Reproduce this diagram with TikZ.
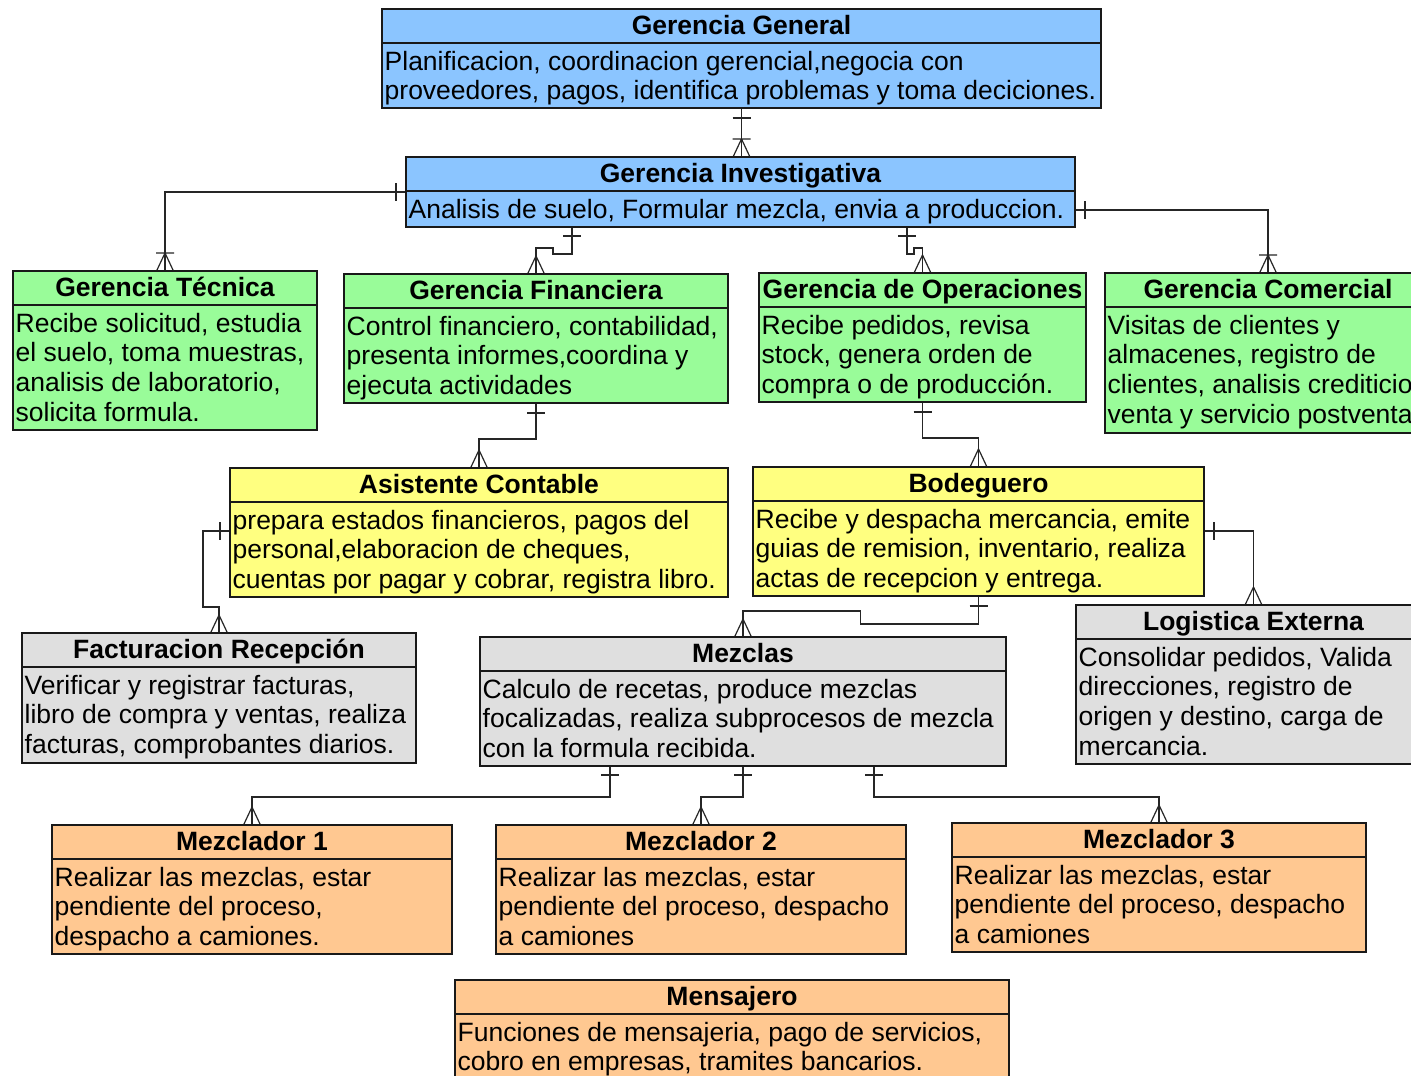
\documentclass[tikz,border=0pt]{standalone}
\usepackage{fontspec}
\setmainfont{Liberation Sans}
\usetikzlibrary{calc}

\definecolor{fblue}{HTML}{8BC5FF}
\definecolor{fgreen}{HTML}{99FC99}
\definecolor{fyellow}{HTML}{FFFF80}
\definecolor{fgray}{HTML}{DFDFDF}
\definecolor{forange}{HTML}{FFC891}

\tikzset{
  ent/.style={draw=black!90, line width=2pt, inner sep=0pt, anchor=north west},
  hdr/.style={line width=1.4pt, draw=black!90},
  ttl/.style={anchor=base, inner sep=0pt, font=\bfseries\fontsize{26.5}{30}\selectfont},
  txt/.style={anchor=base west, inner sep=0pt, font=\fontsize{26.5}{30}\selectfont},
  link/.style={line width=1.2pt, draw=black!85},
  crow/.pic={\draw[link] (0,-17) -- (-8,0) (0,-17) -- (8,0);},
  crowbar/.pic={\draw[link] (0,-17) -- (-8,0) (0,-17) -- (8,0) (-9,-17) -- (9,-17);},
  barv/.pic={\draw[link] (-9,0) -- (9,0);},
  barh/.pic={\draw[link] (0,-9) -- (0,9);},
}

% entity box: name, left, top, right, bottom, fill, title
\newcommand{\entity}[7]{%
  \node[ent, fill=#6, minimum width={(#4-#2)*1pt}, minimum height={(#5-#3)*1pt}] (#1) at (#2,#3) {};
  \draw[hdr] ($(#1.north west)+(0,35)$) -- ($(#1.north east)+(0,35)$);
  \node[ttl] (#1-t) at ($(#1.north)+(0,26.5)$) {#7};
}
% body line k of an entity
\newcommand{\bline}[3]{%
  \node[txt] (#1-l#2) at ($(#1.north west)+(3.5,{62+29.7*(#2-1)})$) {#3};
}

\begin{document}
\begin{tikzpicture}[x=1pt,y=-1pt]
\useasboundingbox (0,0) rectangle (1411,1076);
\fill[white] (0,0) rectangle (1411,1076);
\clip (0,0) rectangle (1411,1076);

% ---------- boxes ----------
\entity{gg}{381}{8}{1100}{107}{fblue}{Gerencia General}
\bline{gg}{1}{Planificacion, coordinacion gerencial,negocia con}
\bline{gg}{2}{proveedores, pagos, identifica problemas y toma deciciones.}

\entity{gi}{405}{156}{1074}{226}{fblue}{Gerencia Investigativa}
\bline{gi}{1}{Analisis de suelo, Formular mezcla, envia a produccion.}

\entity{gt}{12}{270}{316}{429}{fgreen}{Gerencia Técnica}
\bline{gt}{1}{Recibe solicitud, estudia}
\bline{gt}{2}{el suelo, toma muestras,}
\bline{gt}{3}{analisis de laboratorio,}
\bline{gt}{4}{solicita formula.}

\entity{gf}{343}{273}{727}{402}{fgreen}{Gerencia Financiera}
\bline{gf}{1}{Control financiero, contabilidad,}
\bline{gf}{2}{presenta informes,coordina y}
\bline{gf}{3}{ejecuta actividades}

\entity{go}{758}{272}{1085}{401}{fgreen}{Gerencia de Operaciones}
\bline{go}{1}{Recibe pedidos, revisa}
\bline{go}{2}{stock, genera orden de}
\bline{go}{3}{compra o de producción.}

\entity{gc}{1104}{272}{1430}{432}{fgreen}{Gerencia Comercial}
\bline{gc}{1}{Visitas de clientes y}
\bline{gc}{2}{almacenes, registro de}
\bline{gc}{3}{clientes, analisis crediticio}
\bline{gc}{4}{venta y servicio postventa}

\entity{ac}{229}{467}{727}{596}{fyellow}{Asistente Contable}
\bline{ac}{1}{prepara estados financieros, pagos del}
\bline{ac}{2}{personal,elaboracion de cheques,}
\bline{ac}{3}{cuentas por pagar y cobrar, registra libro.}

\entity{bod}{752}{466}{1203}{595}{fyellow}{Bodeguero}
\bline{bod}{1}{Recibe y despacha mercancia, emite}
\bline{bod}{2}{guias de remision, inventario, realiza}
\bline{bod}{3}{actas de recepcion y entrega.}

\entity{fact}{21}{632}{415}{762}{fgray}{Facturacion Recepción}
\bline{fact}{1}{Verificar y registrar facturas,}
\bline{fact}{2}{libro de compra y ventas, realiza}
\bline{fact}{3}{facturas, comprobantes diarios.}

\entity{mez}{479}{636}{1005}{765}{fgray}{Mezclas}
\bline{mez}{1}{Calculo de recetas, produce mezclas}
\bline{mez}{2}{focalizadas, realiza subprocesos de mezcla}
\bline{mez}{3}{con la formula recibida.}

\entity{log}{1075}{604}{1430}{763}{fgray}{Logistica Externa}
\bline{log}{1}{Consolidar pedidos, Valida}
\bline{log}{2}{direcciones, registro de}
\bline{log}{3}{origen y destino, carga de}
\bline{log}{4}{mercancia.}

\entity{ma}{51}{824}{451}{953}{forange}{Mezclador 1}
\bline{ma}{1}{Realizar las mezclas, estar}
\bline{ma}{2}{pendiente del proceso,}
\bline{ma}{3}{despacho a camiones.}

\entity{mb}{495}{824}{905}{953}{forange}{Mezclador 2}
\bline{mb}{1}{Realizar las mezclas, estar}
\bline{mb}{2}{pendiente del proceso, despacho}
\bline{mb}{3}{a camiones}

\entity{mc}{951}{822}{1365}{951}{forange}{Mezclador 3}
\bline{mc}{1}{Realizar las mezclas, estar}
\bline{mc}{2}{pendiente del proceso, despacho}
\bline{mc}{3}{a camiones}

\entity{mens}{454}{979}{1008}{1092}{forange}{Mensajero}
\bline{mens}{1}{Funciones de mensajeria, pago de servicios,}
\bline{mens}{2}{cobro en empresas, tramites bancarios.}

% ---------- connector end points ----------
\coordinate (gi-f) at ($(gi.south west)+(167,0)$);
\coordinate (gi-o) at ($(gi.south west)+(502,0)$);
\coordinate (gi-c) at ($(gi.south east)+(0,-18)$);
\coordinate (ac-w) at ($(ac.north west)+(0,64)$);
\coordinate (bod-e) at ($(bod.north east)+(0,65)$);
\coordinate (mez-a) at ($(mez.south west)+(131,0)$);
\coordinate (mez-c) at ($(mez.south west)+(395,0)$);

% ---------- connectors ----------
\draw[link] (gg.south) -- (gg.south |- gi.north);
\pic at ($(gg.south)+(0,9)$) {barv};
\pic at (gg.south |- gi.north) {crowbar};

\draw[link] (gi.west) -| (gt.north);
\pic at ($(gi.west)+(-9,0)$) {barh};
\pic at (gt.north) {crowbar};

\draw[link] (gi-f) -- ++(0,26) -- ++(-19,0) -- ++(0,-6) -| (gf.north);
\pic at ($(gi-f)+(0,8)$) {barv};
\pic at (gf.north) {crow};

\draw[link] (gi-o) -- ++(0,26) -- ++(7,0) -- ++(0,-6) -| (go.north);
\pic at ($(gi-o)+(0,8)$) {barv};
\pic at (go.north) {crow};

\draw[link] (gi-c) -| (gc.north);
\pic at ($(gi-c)+(9,0)$) {barh};
\pic at (gc.north) {crowbar};

\draw[link] (gf.south) -- ++(0,35) -| (ac.north);
\pic at ($(gf.south)+(0,9)$) {barv};
\pic at (ac.north) {crow};

\draw[link] (go.south) -- ++(0,35) -| (bod.north);
\pic at ($(go.south)+(0,9)$) {barv};
\pic at (bod.north) {crow};

\draw[link] (ac-w) -- ++(-26,0) -- ++(0,76) -| (fact.north);
\pic at ($(ac-w)+(-9,0)$) {barh};
\pic at (fact.north) {crow};

\draw[link] (bod.south) -- ++(0,27) -- ++(-118,0) -- ++(0,-13) -| (mez.north);
\pic at ($(bod.south)+(0,9)$) {barv};
\pic at (mez.north) {crow};

\draw[link] (bod-e) -| (log.north);
\pic at ($(bod-e)+(9,0)$) {barh};
\pic at (log.north) {crow};

\draw[link] (mez-a) -- ++(0,30) -| (ma.north);
\pic at ($(mez-a)+(0,8)$) {barv};
\pic at (ma.north) {crow};

\draw[link] (mez.south) -- ++(0,30) -| (mb.north);
\pic at ($(mez.south)+(0,8)$) {barv};
\pic at (mb.north) {crow};

\draw[link] (mez-c) -- ++(0,30) -| (mc.north);
\pic at ($(mez-c)+(0,8)$) {barv};
\pic at (mc.north) {crow};
\end{tikzpicture}
\end{document}
